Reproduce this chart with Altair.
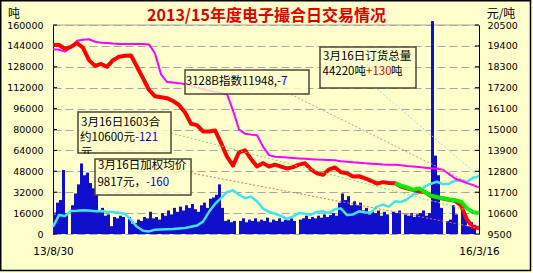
import altair as alt
import pandas as pd

# ---------------- data ----------------
X_LABELS = ["13/8/30", "16/3/16"]
LEFT_TICKS = [0, 16000, 32000, 48000, 64000, 80000, 96000, 112000, 128000, 144000, 160000]
RIGHT_TICKS = [9500, 10600, 11700, 12800, 13900, 15000, 16100, 17200, 18300, 19400, 20500]

# daily volume (tons), left axis
VOLUME = [
    15000, 24000, 26000, 49000, 16000, 0, 22000, 31000, 38000, 54000,
    45000, 47000, 39000, 35000, 30000, 17000, 20000, 14000, 15000, 6000,
    13000, 12000, 14000, 13000, 0, 13000, 8000, 8500, 11000, 10000,
    13000, 12000, 17000, 12000, 13000, 11000, 16000, 14000, 18000, 15000,
    20000, 17000, 21000, 18000, 22000, 20000, 23000, 19000, 17000, 22000,
    24000, 20000, 27000, 28000, 30000, 38000, 20000, 10000, 11000, 9000,
    10000, 0, 10000, 12000, 9000, 11000, 10000, 12000, 9500, 11000,
    10000, 12500, 9000, 11000, 10000, 12000, 9500, 11000, 10500, 12000,
    10000, 0, 11000, 12000, 14000, 11500, 13000, 12000, 14000, 12500,
    15000, 13000, 14500, 16000, 14000, 24000, 31000, 26000, 29000, 22000,
    25000, 22000, 24000, 18000, 20000, 15000, 17000, 16000, 18000, 14000,
    17000, 15000, 0, 17000, 16000, 18000, 0, 15000, 14000, 16000,
    13000, 15000, 16000, 18000, 14000, 16000, 163000, 60000, 45000, 20000,
    0, 10000, 11000, 22000, 15000, 0, 22000, 13000, 6000, 9000,
    7000,
]

LINE_X = list(range(0, 141, 2)) + [142]

# weighted average price (yuan/ton), right axis
PRICE = [
    19450, 19450, 19250, 19350, 19550, 19300, 18650, 18350, 18450, 18300,
    18650, 18830, 18880, 18900, 18300, 17700, 17080, 16750, 16700, 16650,
    16500, 16290, 15900, 15300, 15230, 14900, 14900, 14950, 14300, 13570,
    13100, 13800, 13900, 13450, 13050, 13230, 13050, 13150, 13050, 12950,
    13020, 13150, 13220, 12900, 12700, 12620, 12900, 13000, 12750, 12700,
    12520, 12540, 12430, 12300, 12150, 12230, 12180, 12170, 12000, 11900,
    11820, 11750, 11700, 11500, 11420, 11370, 11300, 11250, 11000, 10250,
    9850, 9817,
]

# 3128B index, right axis
INDEX_3128B = [
    19220, 19200, 19100, 19350, 19670, 19720, 19750, 19620, 19570, 19550,
    19520, 19500, 19500, 19500, 19500, 19500, 19480, 19000, 17900, 17500,
    17470, 17440, 17380, 17300, 17200, 17120, 17050, 16980, 16920, 16860,
    16000, 15000, 14780, 14730, 14700, 14100, 13650, 13570, 13550, 13520,
    13500, 13480, 13460, 13440, 13420, 13410, 13400, 13380, 13330, 13300,
    13270, 13250, 13220, 13200, 13180, 13160, 13150, 13140, 13120, 13080,
    13050, 13020, 12990, 12960, 12930, 12880, 12650, 12420, 12300, 12180,
    12080, 11948,
]

# total open orders (tons), left axis
OPEN_ORDERS = [
    5500, 14500, 13800, 17600, 17800, 18200, 18000, 17500, 17600, 17000,
    16800, 16200, 15500, 10700, 5500, 2500, 2000, 3300, 3500, 3600,
    3800, 4200, 4600, 5500, 6500, 9500, 17000, 23000, 27500, 32000,
    33500, 30100, 27500, 28500, 25000, 19500, 17000, 15500, 13800, 11500,
    13500, 16000, 15500, 14800, 17000, 17400, 16000, 19000, 19500, 14500,
    15000, 17400, 16500, 16500, 21000, 22500, 21000, 25000, 24500, 26500,
    30100, 31400, 36500, 38500, 40000, 38000, 38500, 40800, 41000, 40000,
    43000, 44220,
]

# 1603 contract (yuan/ton), right axis
GREEN_X = list(range(114, 141, 2)) + [142]
C1603 = [12180, 12050, 11950, 11820, 11900, 11700, 11520, 11450, 11380, 11320,
         11280, 11200, 10850, 10650, 10600]

# ---------------- chart ----------------
CJK = "Noto Sans CJK SC"
NUMF = "DejaVu Sans"
W, H = 426, 209

x_scale = alt.Scale(domain=[0, 142], nice=False, zero=False)
left_scale = alt.Scale(domain=[0, 160000], nice=False, zero=True)
right_scale = alt.Scale(domain=[9500, 20500], nice=False, zero=False)

label_expr = f"datum.value == 0 ? '{X_LABELS[0]}' : '{X_LABELS[1]}'"
x_axis = alt.Axis(values=[0, 142], labelExpr=label_expr, title=None, domain=False,
                  ticks=False, grid=False, labelFlush=False, labelOverlap=False,
                  labelPadding=17, labelFont=NUMF, labelFontSize=10.5, labelColor="black",
                  labelBaseline="middle")
left_axis = alt.Axis(values=LEFT_TICKS, orient="left", title=None, grid=True,
                     gridDash=[8, 4], gridColor="#A8A8A8", gridWidth=1,
                     domainColor="black", domainWidth=1, ticks=False, labelPadding=10,
                     labelFont=NUMF, labelFontSize=9.5, labelColor="black",
                     labelOverlap=False, format="d")
right_axis = alt.Axis(values=RIGHT_TICKS, orient="right", title=None, grid=False,
                      domainColor="black", domainWidth=1, ticks=False, labelPadding=8,
                      labelFont=NUMF, labelFontSize=9.5, labelColor="black",
                      labelOverlap=False, format="d")

ONE = pd.DataFrame({"k": [0]})


def text(t, x, y, color="black", align="left", size=11.5, weight="normal", font=CJK):
    return alt.Chart(ONE).mark_text(text=t, align=align, baseline="middle", fontSize=size,
                                    font=font, fontWeight=weight, color=color).encode(
        x=alt.value(x), y=alt.value(y))


def box(x, y, x2, y2, fill="#FFFFCC", opacity=0.8, stroke="#4A4A3A"):
    kw = dict(fill=fill, fillOpacity=opacity)
    if stroke:
        kw.update(stroke=stroke, strokeWidth=1.5)
    return alt.Chart(ONE).mark_rect(**kw).encode(
        x=alt.value(x), x2=alt.value(x2), y=alt.value(y), y2=alt.value(y2))


def series(xs, ys, scale, axis, color, width):
    df = pd.DataFrame({"x": xs, "y": ys})
    return alt.Chart(df).mark_line(color=color, strokeWidth=width, strokeJoin="round").encode(
        x=alt.X("x:Q", scale=x_scale, axis=x_axis),
        y=alt.Y("y:Q", scale=scale, axis=axis))


def connector(xs, ys, scale, axis, x2, y2, color):
    df = pd.DataFrame({"x": [xs[-1]], "y": [ys[-1]]})
    return alt.Chart(df).mark_rule(color=color, strokeDash=[2, 2], strokeWidth=1).encode(
        x=alt.X("x:Q", scale=x_scale, axis=x_axis),
        y=alt.Y("y:Q", scale=scale, axis=axis),
        x2=alt.value(x2), y2=alt.value(y2))


vol_df = pd.DataFrame({"x": list(range(len(VOLUME))), "v": VOLUME})
bars = alt.Chart(vol_df).transform_calculate(x2="datum.x + 1", base="0").mark_rect(
    color="#1010CC").encode(
    x=alt.X("x:Q", scale=x_scale, axis=x_axis),
    x2="x2:Q",
    y=alt.Y("v:Q", scale=left_scale, axis=left_axis),
    y2="base:Q")

tick_df = pd.DataFrame({"t": LEFT_TICKS})
left_ticks = alt.Chart(tick_df).mark_rule(color="black").encode(
    y=alt.Y("t:Q", scale=left_scale, axis=left_axis), x=alt.value(0), x2=alt.value(4))
right_ticks = alt.Chart(tick_df).mark_rule(color="black").encode(
    y=alt.Y("t:Q", scale=left_scale, axis=left_axis), x=alt.value(W - 4), x2=alt.value(W))
top_line = alt.Chart(ONE).mark_rule(color="#A8A8A8").encode(
    x=alt.value(0), x2=alt.value(W), y=alt.value(0))
frame = alt.Chart(ONE).mark_rect(fillOpacity=0, stroke="black", strokeWidth=1.5).encode(
    x=alt.value(-52.25), x2=alt.value(477.5), y=alt.value(-24.25), y2=alt.value(245.5))

cyan = series(LINE_X, OPEN_ORDERS, left_scale, left_axis, "#3FE3F2", 2.5)
cyan_conn = connector(LINE_X, OPEN_ORDERS, left_scale, left_axis, 323, 63, "#7FE8E8")

left_group = alt.layer(frame, top_line, bars, left_ticks, right_ticks, cyan, cyan_conn)

magenta = series(LINE_X, INDEX_3128B, right_scale, right_axis, "#FF00FF", 2)
red = series(LINE_X, PRICE, right_scale, right_axis, "#FF0000", 4)
green = series(GREEN_X, C1603, right_scale, right_axis, "#00EE00", 4)

mag_conn = connector(LINE_X, INDEX_3128B, right_scale, right_axis, 237, 69, "#E08C8C")
green_conn = connector(GREEN_X, C1603, right_scale, right_axis, 118, 108, "#80DD80")
red_conn = connector(LINE_X, PRICE, right_scale, right_axis, 138, 148, "#E07050")

annotations = [
    # 3128B index box
    box(132, 45, 256, 69),
    text("3128B指数11948,", 224, 57, align="right"),
    text("-7", 224, 57, color="#0000CC"),
    # open orders box
    box(267, 22, 363, 63),
    text("3月16日订货总量", 270, 32),
    text("44220吨", 313, 47, align="right"),
    text("+130", 313, 47, color="#E00000"),
    text("吨", 338, 47),
    # 1603 contract box
    box(25, 87, 118, 128),
    text("3月16日1603合", 28, 98),
    text("约10600元", 82, 113, align="right"),
    text("-121", 82, 113, color="#0000CC"),
    text("元", 28, 128),
    box(23, 129, 120, 133.8, opacity=1, stroke=None),
    # weighted average price box
    box(42, 134, 138, 170),
    text("3月16日加权均价", 45, 141),
    text("9817元，", 93, 158, align="right"),
    text("-160", 93, 158, color="#0000CC"),
    # title and unit labels
    text("2013/15年度电子撮合日交易情况", 213.5, -9.5, color="#E00000", align="center",
         size=16, weight="bold"),
    text("吨", -39, -11, align="center", size=12),
    text("元/吨", 448, -11, align="center", size=12),
]

right_group = alt.layer(magenta, red, green, mag_conn, green_conn, red_conn, *annotations)

chart = alt.layer(left_group, right_group).resolve_scale(y="independent").properties(
    width=W, height=H,
    padding={"left": 53, "top": 25, "right": 54, "bottom": 39},
    autosize=alt.AutoSizeParams(type="none"),
    background="#FFFFCC",
).configure_view(stroke=None)

chart.save("out.html", embed_options={"renderer": "svg", "actions": False})
